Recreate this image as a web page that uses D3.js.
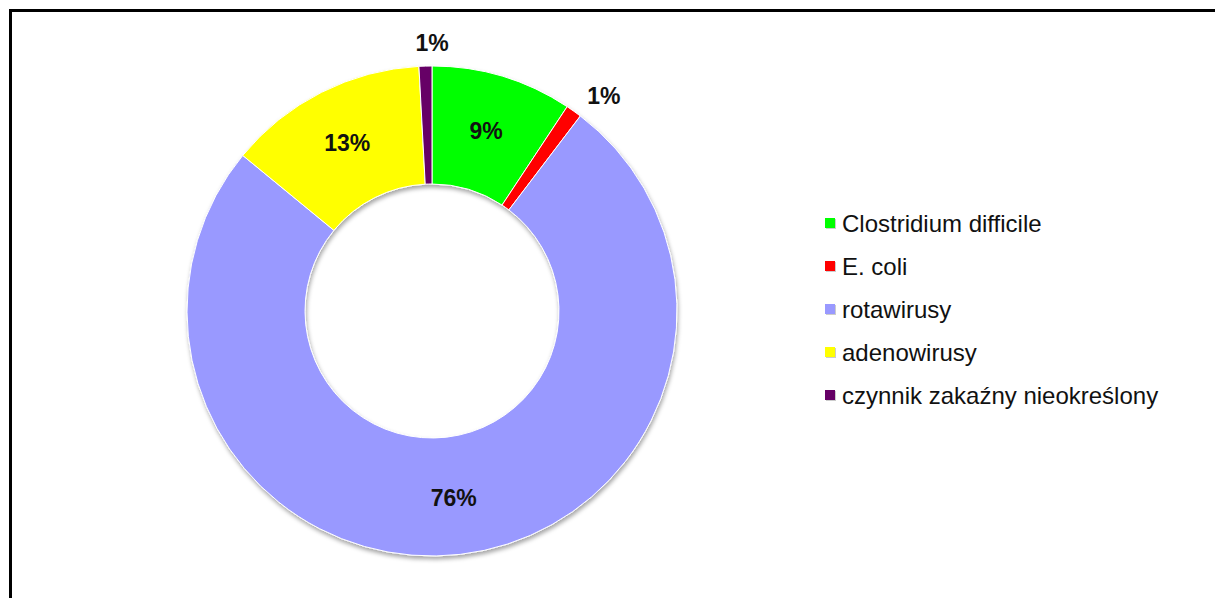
<!DOCTYPE html>
<html>
<head>
<meta charset="utf-8">
<script src="https://cdn.jsdelivr.net/npm/d3@7"></script>
<style>
  body { margin: 0; background: #fff; overflow: hidden; }
  svg { display: block; }
  text { font-family: "Liberation Sans", Arial, sans-serif; }
</style>
</head>
<body>
<svg id="chart"></svg>
<script>
var width = 1215;
var height = 598;

// data (percent of cases)
var categories = ["Clostridium difficile", "E. coli", "rotawirusy", "adenowirusy", "czynnik zakaźny nieokreślony"];
var values = [9.3, 1.05, 75.6, 13.2, 0.85];
var colors = ["#00ff00", "#ff0000", "#9999ff", "#ffff00", "#660066"];
var outsideLabel = [false, true, false, false, true];

var cx = 432, cy = 311;
var outerR = 245, innerR = 127;

var svg = d3.select("#chart")
  .attr("width", width)
  .attr("height", height);

// frame (right and bottom edges fall outside the picture)
svg.append("rect")
  .attr("x", 10.5).attr("y", 10.5)
  .attr("width", 1400).attr("height", 1000)
  .style("fill", "none").style("stroke", "#000").style("stroke-width", 3);

var defs = svg.append("defs");
var f = defs.append("filter").attr("id", "shadow")
  .attr("x", "-10%").attr("y", "-10%").attr("width", "120%").attr("height", "120%");
f.append("feDropShadow")
  .attr("dx", 1).attr("dy", 3).attr("stdDeviation", 2)
  .attr("flood-color", "#000").attr("flood-opacity", 0.35);

var pie = d3.pie().sort(null).value(function(d) { return d; });
var arcs = pie(values);

var arc = d3.arc().innerRadius(innerR).outerRadius(outerR);

var g = svg.append("g").attr("transform", "translate(" + cx + "," + cy + ")");

g.append("g").attr("filter", "url(#shadow)")
  .selectAll("path")
  .data(arcs)
  .enter()
  .append("path")
  .attr("d", arc)
  .style("fill", function(d, i) { return colors[i]; })
  .style("stroke", "#fff")
  .style("stroke-width", 1);

// labels
var midR = (innerR + outerR) / 2 + 2;
var outR = 268;
g.selectAll("text.lbl")
  .data(arcs)
  .enter()
  .append("text")
  .attr("class", "lbl")
  .each(function(d, i) {
    var a = (d.startAngle + d.endAngle) / 2;
    var r = outsideLabel[i] ? outR : midR;
    var x = r * Math.sin(a), y = -r * Math.cos(a);
    var anchor = "middle";
    if (outsideLabel[i]) {
      if (Math.sin(a) > 0.2) { anchor = "start"; y += 4; }
      else if (Math.sin(a) < -0.2) anchor = "end";
      else x = 0;
    }
    d3.select(this)
      .attr("x", x).attr("y", y)
      .attr("text-anchor", anchor)
      .attr("dominant-baseline", "central");
  })
  .style("font-size", "23px")
  .style("font-weight", "bold")
  .style("fill", "#111")
  .text(function(d) { return Math.round(d.data) + "%"; });

// legend
var legend = svg.append("g").attr("transform", "translate(825,223)");
var rows = legend.selectAll("g")
  .data(categories)
  .enter()
  .append("g")
  .attr("transform", function(d, i) { return "translate(0," + (i * 43) + ")"; });

rows.append("rect")
  .attr("x", 1).attr("y", -4)
  .attr("width", 10).attr("height", 10)
  .style("fill", "#ccc");
rows.append("rect")
  .attr("x", 0).attr("y", -5)
  .attr("width", 10).attr("height", 10)
  .style("fill", function(d, i) { return colors[i]; });

rows.append("text")
  .attr("x", 17).attr("y", 0)
  .attr("dominant-baseline", "central")
  .style("font-size", "24px")
  .style("fill", "#111")
  .text(function(d) { return d; });
</script>
</body>
</html>
